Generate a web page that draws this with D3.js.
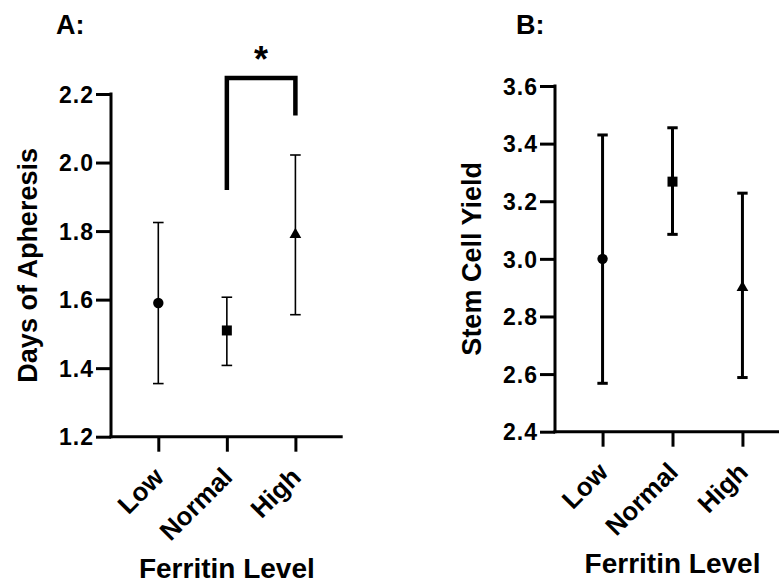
<!DOCTYPE html>
<html>
<head>
<meta charset="utf-8">
<script src="https://cdn.jsdelivr.net/npm/d3@7"></script>
<style>
  html, body { margin: 0; padding: 0; background: #fff; }
  text { font-family: "Liberation Sans", Arial, Helvetica, sans-serif; font-weight: bold; fill: #000; }
</style>
</head>
<body>
<svg id="chart" width="779" height="583"></svg>
<script>
// ---- data ----
const categories = ["Low", "Normal", "High"];
const shapes = ["circle", "square", "triangle"];

// Panel A: Days of Apheresis
const daysMean  = [1.59, 1.51, 1.79];
const daysUpper = [1.825, 1.607, 2.022];
const daysLower = [1.355, 1.408, 1.556];
const daysTicks = [1.2, 1.4, 1.6, 1.8, 2.0, 2.2];

// Panel B: Stem Cell Yield
const yieldMean  = [3.0, 3.268, 2.90];
const yieldUpper = [3.43, 3.455, 3.228];
const yieldLower = [2.568, 3.085, 2.588];
const yieldTicks = [2.4, 2.6, 2.8, 3.0, 3.2, 3.4, 3.6];

// significance bracket (Normal vs High), in data units of panel A
const sigPair = ["Normal", "High"];
const sigTop = 2.247;
const sigLeftEnd = 1.92;
const sigRightEnd = 2.137;
const sigLabel = "*";

const svg = d3.select("#chart");

function panel(opts) {
  const g = svg.append("g");
  const x = d3.scalePoint().domain(categories).range([opts.x0, opts.x1]).padding(opts.pad);
  const y = d3.scaleLinear().domain(opts.domain).range([opts.yBottom, opts.yTop]);

  // y axis
  const yAxis = g.append("g").attr("transform", `translate(${opts.x0},0)`)
    .call(d3.axisLeft(y).tickValues(opts.ticks).tickFormat(d3.format(".1f")).tickSize(15).tickPadding(2));
  yAxis.select(".domain").remove();
  yAxis.selectAll(".tick line").attr("stroke", "#000").attr("stroke-width", 3);
  yAxis.selectAll(".tick text").style("font-size", "23px").style("letter-spacing", "1px").attr("dy", "0.36em");
  g.append("line").attr("x1", opts.x0).attr("x2", opts.x0)
    .attr("y1", y(opts.domain[1]) - 1.5).attr("y2", y(opts.domain[0]) + 1.5)
    .attr("stroke", "#000").attr("stroke-width", 3);

  // x axis
  const xAxis = g.append("g").attr("transform", `translate(0,${opts.yBottom})`)
    .call(d3.axisBottom(x).tickSize(15).tickFormat(""));
  xAxis.select(".domain").remove();
  xAxis.selectAll(".tick line").attr("stroke", "#000").attr("stroke-width", 3);
  g.append("line").attr("x1", opts.x0 - 1.5).attr("x2", opts.x1)
    .attr("y1", opts.yBottom).attr("y2", opts.yBottom)
    .attr("stroke", "#000").attr("stroke-width", 3);

  // category labels rotated
  g.selectAll(".cat").data(categories).join("text")
    .attr("class", "cat")
    .attr("transform", d => `translate(${x(d) + 7},${opts.yBottom + 42}) rotate(-45)`)
    .attr("text-anchor", "end")
    .style("font-size", "26px")
    .text(d => d);

  // x title
  g.append("text").attr("x", x("Normal")).attr("y", opts.xTitleY)
    .attr("text-anchor", "middle").style("font-size", "28px").text("Ferritin Level");

  // y title
  g.append("text")
    .attr("transform", `translate(${opts.yTitleX},${(y(opts.domain[0]) + y(opts.domain[1])) / 2}) rotate(-90)`)
    .attr("text-anchor", "middle").style("font-size", "27px").text(opts.yTitle);

  // panel label
  g.append("text").attr("x", opts.labelX).attr("y", 34).style("font-size", "27px").text(opts.label);

  // error bars
  const eb = g.selectAll(".eb").data(categories).join("g").attr("class", "eb");
  eb.append("line")
    .attr("x1", d => x(d)).attr("x2", d => x(d))
    .attr("y1", (d, i) => y(opts.upper[i])).attr("y2", (d, i) => y(opts.lower[i]))
    .attr("stroke", "#000").attr("stroke-width", opts.ebWidth);
  eb.append("line")
    .attr("x1", d => x(d) - opts.cap).attr("x2", d => x(d) + opts.cap)
    .attr("y1", (d, i) => y(opts.upper[i])).attr("y2", (d, i) => y(opts.upper[i]))
    .attr("stroke", "#000").attr("stroke-width", opts.ebWidth);
  eb.append("line")
    .attr("x1", d => x(d) - opts.cap).attr("x2", d => x(d) + opts.cap)
    .attr("y1", (d, i) => y(opts.lower[i])).attr("y2", (d, i) => y(opts.lower[i]))
    .attr("stroke", "#000").attr("stroke-width", opts.ebWidth);

  // markers
  const symMap = { circle: d3.symbolCircle, square: d3.symbolSquare, triangle: d3.symbolTriangle };
  const sizeMap = { circle: 85, square: 100, triangle: 60 };
  g.selectAll(".pt").data(categories).join("path")
    .attr("class", "pt")
    .attr("transform", (d, i) => `translate(${x(d)},${y(opts.mean[i])})`)
    .attr("d", (d, i) => d3.symbol().type(symMap[shapes[i]]).size(sizeMap[shapes[i]])())
    .attr("fill", "#000");

  return { x, y, g };
}

const A = panel({
  x0: 111, x1: 342.7, pad: 0.69, yBottom: 436.7, yTop: 94, domain: [1.2, 2.2],
  ticks: daysTicks, mean: daysMean, upper: daysUpper, lower: daysLower,
  ebWidth: 1.6, cap: 5.3, yTitle: "Days of Apheresis", yTitleX: 37,
  label: "A:", labelX: 56, xTitleY: 578
});

const B = panel({
  x0: 555, x1: 790, pad: 0.68, yBottom: 431.7, yTop: 86, domain: [2.4, 3.6],
  ticks: yieldTicks, mean: yieldMean, upper: yieldUpper, lower: yieldLower,
  ebWidth: 3, cap: 5.2, yTitle: "Stem Cell Yield", yTitleX: 481,
  label: "B:", labelX: 516, xTitleY: 573
});

// significance bracket on panel A
const bx1 = A.x(sigPair[0]), bx2 = A.x(sigPair[1]);
A.g.append("path")
  .attr("d", `M${bx1},${A.y(sigLeftEnd)} V${A.y(sigTop)} H${bx2} V${A.y(sigRightEnd)}`)
  .attr("fill", "none").attr("stroke", "#000").attr("stroke-width", 4.5)
  .attr("stroke-linejoin", "miter");
A.g.append("text")
  .attr("x", (bx1 + bx2) / 2).attr("y", 72)
  .attr("text-anchor", "middle").style("font-size", "36px").text(sigLabel);
</script>
</body>
</html>
